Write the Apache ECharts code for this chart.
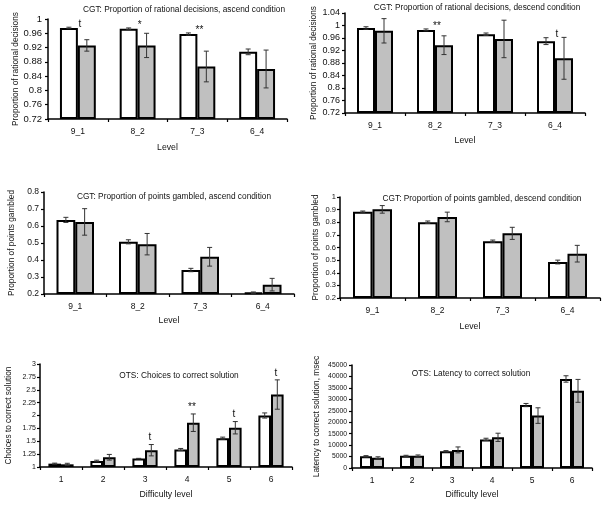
<!DOCTYPE html>
<html><head><meta charset="utf-8">
<script src="https://cdn.jsdelivr.net/npm/echarts@6/dist/echarts.min.js"></script>
<style>html,body{margin:0;padding:0;background:#fff}#c{width:605px;height:505px}</style>
</head><body><div id="c"></div><script>
// ---------- data ----------
const levels = ['9_1', '8_2', '7_3', '6_4'];
const difficulty = ['1', '2', '3', '4', '5', '6'];

const ratAscWhite = [0.975, 0.973, 0.958, 0.908];
const ratAscWhiteErr = [0.002, 0.002, 0.003, 0.008];
const ratAscGray = [0.926, 0.926, 0.867, 0.860];
const ratAscGrayErr = [0.016, 0.034, 0.043, 0.053];
const ratAscSig = ['t', '*', '**', ''];
const ratAscAxis = [0.72, 1, 0.04];

const ratDesWhite = [0.992, 0.986, 0.972, 0.950];
const ratDesWhiteErr = [0.004, 0.003, 0.004, 0.011];
const ratDesGray = [0.983, 0.937, 0.957, 0.895];
const ratDesGrayErr = [0.039, 0.030, 0.060, 0.067];
const ratDesSig = ['', '**', '', 't'];
const ratDesAxis = [0.72, 1.04, 0.04];

const ptsAscWhite = [0.636, 0.507, 0.341, 0.208];
const ptsAscWhiteErr = [0.015, 0.012, 0.010, 0.004];
const ptsAscGray = [0.624, 0.493, 0.419, 0.255];
const ptsAscGrayErr = [0.078, 0.063, 0.055, 0.037];
const ptsAscSig = ['', '', '', ''];
const ptsAscAxis = [0.2, 0.8, 0.1];

const ptsDesWhite = [0.884, 0.800, 0.649, 0.485];
const ptsDesWhiteErr = [0.005, 0.010, 0.010, 0.015];
const ptsDesGray = [0.902, 0.842, 0.712, 0.551];
const ptsDesGrayErr = [0.030, 0.038, 0.048, 0.066];
const ptsDesSig = ['', '', '', ''];
const ptsDesAxis = [0.2, 1, 0.1];

const choicesWhite = [1.065, 1.117, 1.163, 1.34, 1.56, 2.0];
const choicesWhiteErr = [0.010, 0.015, 0.005, 0.020, 0.020, 0.050];
const choicesGray = [1.052, 1.189, 1.326, 1.86, 1.762, 2.407];
const choicesGrayErr = [0.020, 0.055, 0.110, 0.170, 0.120, 0.285];
const choicesSig = ['', '', 't', '**', 't', 't'];
const choicesAxis = [1, 3, 0.25];

const latencyWhite = [5100, 5300, 7300, 12500, 27500, 38900];
const latencyWhiteErr = [300, 250, 300, 500, 700, 1400];
const latencyGray = [4500, 5300, 7900, 13400, 22900, 33700];
const latencyGrayErr = [400, 400, 1300, 1800, 3400, 5000];
const latencySig = ['', '', '', '', '', ''];
const latencyAxis = [0, 45000, 5000];

// ---------- layout ----------
const FONT = "'Liberation Sans', Arial, sans-serif";
const TXT = '#111';
const GAP = 0.40;
const panels = [
  {title: 'CGT: Proportion of rational decisions, ascend condition', tx: 184, ty: 10,
   cats: levels, w: ratAscWhite, we: ratAscWhiteErr, g: ratAscGray, ge: ratAscGrayErr, sig: ratAscSig, axis: ratAscAxis,
   yName: 'Proportion of rational decisions', xName: 'Level',
   grid: {left: 48, top: 19, width: 239, height: 100}, yFont: 9.5, yMargin: 6, yNameGap: 28, xNameGap: 24, sigDx: 2, sigDy: 0},
  {title: 'CGT: Proportion of rational decisions, descend condition', tx: 477, ty: 8,
   cats: levels, w: ratDesWhite, we: ratDesWhiteErr, g: ratDesGray, ge: ratDesGrayErr, sig: ratDesSig, axis: ratDesAxis,
   yName: 'Proportion of rational decisions', xName: 'Level',
   grid: {left: 345, top: 13, width: 240, height: 100}, yFont: 9, yMargin: 5, yNameGap: 27, xNameGap: 23, sigDx: 2, sigDy: 0},
  {title: 'CGT: Proportion of points gambled, ascend condition', tx: 174, ty: 197,
   cats: levels, w: ptsAscWhite, we: ptsAscWhiteErr, g: ptsAscGray, ge: ptsAscGrayErr, sig: ptsAscSig, axis: ptsAscAxis,
   yName: 'Proportion of points gambled', xName: 'Level',
   grid: {left: 44, top: 192, width: 250, height: 102}, yFont: 8.5, yMargin: 5, yNameGap: 28, xNameGap: 22, sigDx: 2, sigDy: 0},
  {title: 'CGT: Proportion of points gambled, descend condition', tx: 482, ty: 199,
   cats: levels, w: ptsDesWhite, we: ptsDesWhiteErr, g: ptsDesGray, ge: ptsDesGrayErr, sig: ptsDesSig, axis: ptsDesAxis,
   yName: 'Proportion of points gambled', xName: 'Level',
   grid: {left: 340, top: 197, width: 260, height: 101}, yFont: 7.5, yMargin: 4, yNameGap: 20, xNameGap: 24, sigDx: 2, sigDy: 0},
  {title: 'OTS: Choices to correct solution', tx: 179, ty: 376,
   cats: difficulty, w: choicesWhite, we: choicesWhiteErr, g: choicesGray, ge: choicesGrayErr, sig: choicesSig, axis: choicesAxis,
   yName: 'Choices to correct solution', xName: 'Difficulty level',
   grid: {left: 40, top: 364, width: 252, height: 103}, yFont: 7, yMargin: 4, yNameGap: 27, xNameGap: 23, sigDx: 5, sigDy: 4},
  {title: 'OTS: Latency to correct solution', tx: 471, ty: 374,
   cats: difficulty, w: latencyWhite, we: latencyWhiteErr, g: latencyGray, ge: latencyGrayErr, sig: latencySig, axis: latencyAxis,
   yName: 'Latency to correct solution, msec', xName: 'Difficulty level',
   grid: {left: 352, top: 365, width: 240, height: 103}, yFont: 6.8, yMargin: 5, yNameGap: 31, xNameGap: 22, sigDx: 5, sigDy: 4}
];

const grids = [], xAxes = [], yAxes = [], series = [], graphics = [];
panels.forEach((p, k) => {
  grids.push(Object.assign({containLabel: false, outerBoundsMode: 'none'}, p.grid));
  xAxes.push({
    type: 'category', gridIndex: k, data: p.cats,
    name: p.xName, nameLocation: 'middle', nameGap: p.xNameGap,
    nameTextStyle: {fontFamily: FONT, fontSize: 8.7, color: TXT},
    axisLine: {lineStyle: {color: '#000', width: 1.5}},
    axisTick: {show: true, length: 3, lineStyle: {color: '#000', width: 1.2}},
    axisLabel: {fontFamily: FONT, fontSize: 8.5, color: TXT, margin: 8},
    splitLine: {show: false}
  });
  yAxes.push({
    type: 'value', gridIndex: k, min: p.axis[0], max: p.axis[1], interval: p.axis[2], startValue: p.axis[0],
    name: p.yName, nameLocation: 'middle', nameGap: p.yNameGap,
    nameTextStyle: {fontFamily: FONT, fontSize: 8.3, color: TXT},
    axisLine: {show: true, lineStyle: {color: '#000', width: 1.5}},
    axisTick: {show: true, length: 3, lineStyle: {color: '#000', width: 1.2}},
    axisLabel: {fontFamily: FONT, fontSize: p.yFont, color: TXT, margin: p.yMargin, formatter: v => String(+v.toFixed(4))},
    splitLine: {show: false}
  });
  series.push({
    type: 'bar', xAxisIndex: k, yAxisIndex: k, data: p.w, barGap: '0%', barCategoryGap: (GAP * 100) + '%',
    itemStyle: {color: '#ffffff', borderColor: '#000', borderWidth: 2}, silent: true, z: 2
  });
  series.push({
    type: 'bar', xAxisIndex: k, yAxisIndex: k, data: p.g, barGap: '0%', barCategoryGap: (GAP * 100) + '%',
    itemStyle: {color: '#c0c0c0', borderColor: '#000', borderWidth: 2}, silent: true, z: 2
  });
  series.push({
    type: 'custom', xAxisIndex: k, yAxisIndex: k, silent: true, z: 5, clip: false,
    data: p.cats.map((c, i) => [i, p.w[i], p.we[i], p.g[i], p.ge[i]]),
    renderItem: (params, api) => {
      const i = api.value(0);
      const band = api.size([1, 0])[0];
      const bw = band * (1 - GAP) / 2;
      const cx = api.coord([i, p.axis[0]])[0];
      const children = [];
      const errStyle = {stroke: '#333', lineWidth: 1};
      [[cx - bw / 2, api.value(1), api.value(2)], [cx + bw / 2, api.value(3), api.value(4)]].forEach(([x, v, e]) => {
        const y1 = api.coord([i, v + e])[1], y2 = api.coord([i, v - e])[1];
        children.push({type: 'line', shape: {x1: x, y1: y1, x2: x, y2: y2}, style: errStyle});
        children.push({type: 'line', shape: {x1: x - 2.5, y1: y1, x2: x + 2.5, y2: y1}, style: errStyle});
        children.push({type: 'line', shape: {x1: x - 2.5, y1: y2, x2: x + 2.5, y2: y2}, style: errStyle});
      });
      const s = p.sig[i];
      if (s) {
        const topV = Math.max(api.value(1) + api.value(2), api.value(3) + api.value(4));
        const ty = api.coord([i, topV])[1];
        children.push({type: 'text', x: cx + p.sigDx, y: ty - p.sigDy + 2,
          style: {text: s, font: '10px ' + FONT, fill: TXT, align: 'center', verticalAlign: 'bottom',
                  textAlign: 'center', textVerticalAlign: 'bottom'}});
      }
      return {type: 'group', children};
    }
  });
  graphics.push({type: 'text', x: p.tx, y: p.ty, z: 10,
    style: {text: p.title, font: '8.3px ' + FONT, fill: TXT, align: 'center', verticalAlign: 'middle',
            textAlign: 'center', textVerticalAlign: 'middle'}});
});

const chart = echarts.init(document.getElementById('c'), null, {renderer: 'canvas'});
chart.setOption({
  animation: false,
  backgroundColor: '#fff',
  grid: grids, xAxis: xAxes, yAxis: yAxes, series: series, graphic: graphics
});
</script></body></html>
